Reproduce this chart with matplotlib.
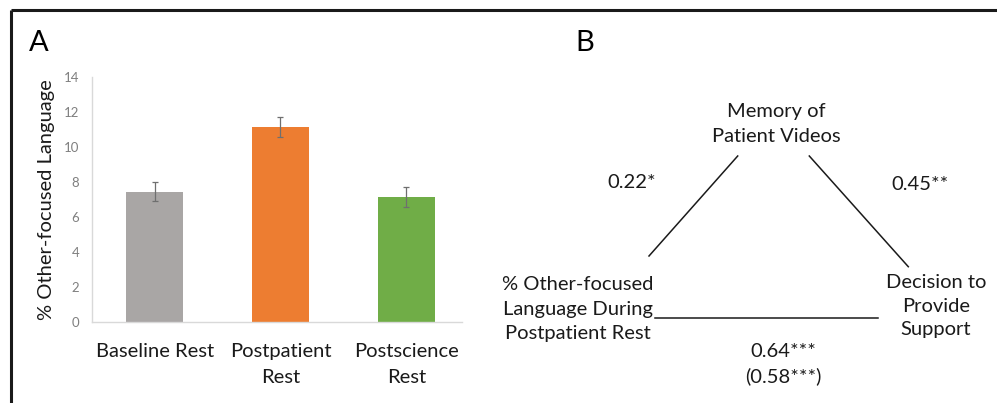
import matplotlib.pyplot as plt

plt.rcParams['font.family'] = ['Lato', 'DejaVu Sans']

# Panel A data: mean % other-focused language per rest period (+/- SE)
conditions = ['Baseline Rest', 'Postpatient\nRest', 'Postscience\nRest']
means = [7.45, 11.15, 7.14]
errors = [0.55, 0.57, 0.55]
bar_colors = ['#A9A6A5', '#ED7D31', '#70AD47']
yticks = [0, 2, 4, 6, 8, 10, 12, 14]

# Panel B: mediation path coefficients
path_a = '0.22*'
path_b = '0.45**'
path_c = '0.64***\n(0.58***)'
node_mediator = 'Memory of\nPatient Videos'
node_predictor = '% Other-focused\nLanguage During\nPostpatient Rest'
node_outcome = 'Decision to\nProvide\nSupport'

W, H = 997, 403
fig = plt.figure(figsize=(W / 100, H / 100), dpi=100)

# overlay in pixel units for the frame and the path diagram
ov = fig.add_axes([0, 0, 1, 1])
ov.set_xlim(0, W)
ov.set_ylim(H, 0)
ov.axis('off')

ov.plot([11, W], [10, 10], color='#1a1a1a', lw=2.2, solid_capstyle='butt')
ov.plot([11, 11], [10, H], color='#1a1a1a', lw=2.2, solid_capstyle='butt')

ov.text(29, 43, 'A', fontsize=21, va='center', ha='left')
ov.text(575, 43, 'B', fontsize=21, va='center', ha='left')

# bar chart
ax = fig.add_axes([91.7 / W, 1 - 321.7 / H, 370 / W, 244.4 / H])
x = range(len(conditions))
ax.bar(x, means, width=0.45, color=bar_colors, zorder=2)
ax.errorbar(x, means, yerr=errors, fmt='none', ecolor='#6f6f6f',
            elinewidth=0.9, capsize=2, capthick=0.9, zorder=3)
ax.set_xlim(-0.5, 2.44)
ax.set_ylim(0, 14)
ax.set_yticks(yticks)
ax.set_xticks(list(x))
ax.set_xticklabels(conditions, fontsize=14.5, color='#1a1a1a', linespacing=1.7)
ax.tick_params(axis='y', length=0, labelsize=9.5, labelcolor='#7f7f7f', pad=9)
ax.tick_params(axis='x', length=0, pad=15)
for side in ['top', 'right']:
    ax.spines[side].set_visible(False)
for side in ['left', 'bottom']:
    ax.spines[side].set_color('#d9d9d9')
    ax.spines[side].set_linewidth(1)
ax.set_ylabel('% Other-focused Language', fontsize=14.5, color='#1a1a1a', labelpad=6)

# mediation triangle
line_kw = dict(color='#1a1a1a', lw=1.1)
ov.plot([649, 737.7], [256, 156], **line_kw)
ov.plot([809.3, 908.3], [156, 266.7], **line_kw)
ov.plot([655, 878.3], [318.3, 318.3], **line_kw)

txt_kw = dict(fontsize=14.5, ha='center', va='center', color='#1a1a1a', linespacing=1.5)
ov.text(776, 124, node_mediator, **txt_kw)
ov.text(578, 309, node_predictor, **txt_kw)
ov.text(936, 306, node_outcome, **txt_kw)
ov.text(632, 183, path_a, **txt_kw)
ov.text(920, 185, path_b, **txt_kw)
ov.text(783, 364, path_c, **txt_kw)

fig.savefig('out.png', dpi=100)
